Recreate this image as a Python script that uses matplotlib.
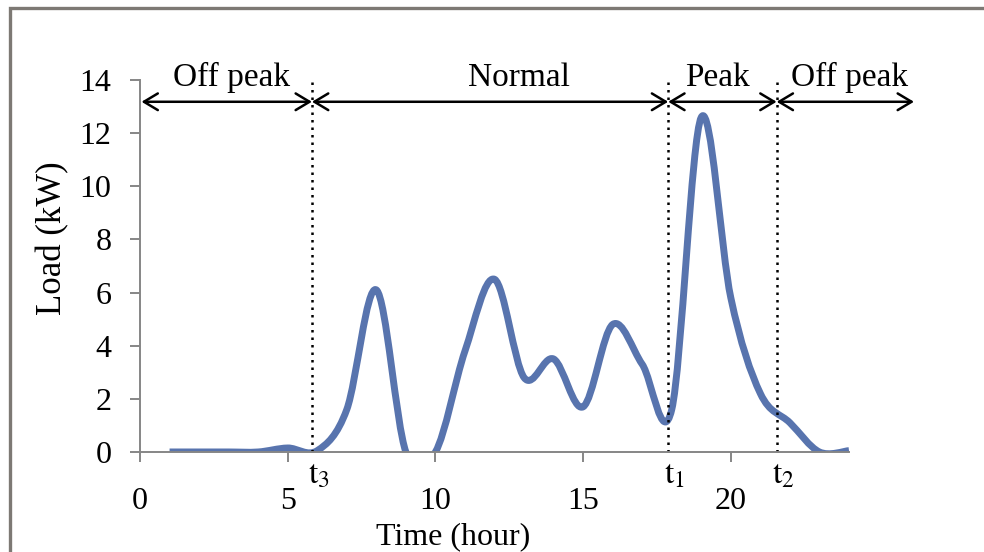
import matplotlib

matplotlib.use("Agg")

import matplotlib.pyplot as plt
import numpy as np
from matplotlib.patches import PathPatch, Rectangle
from matplotlib.path import Path


# hourly load readings (kW)
hours = np.arange(1, 25)
load = [0.0, 0.0, 0.0, 0.0, 0.15, 0.05, 1.6, 6.1, 0.0, 0.0, 3.8, 6.5,
        2.8, 3.5, 1.7, 4.8, 3.3, 1.6, 12.6, 5.8, 2.2, 1.1, 0.0, 0.05]

# tariff period boundaries (hour)
t3, t1, t2 = 5.82, 17.88, 21.55
boundary_times = [t3, t1, t2]
boundary_labels = [r"$\mathrm{t}_{3}$", r"$\mathrm{t}_{1}$", r"$\mathrm{t}_{2}$"]

# arrows spanning each period and their captions
period_edges = [0.05, t3, t1, t2, 26.2]
period_names = ["Off peak", "Normal", "Peak", "Off peak"]
period_label_x = [3.11, 12.83, 19.56, 24.03]

x_ticks = [0, 5, 10, 15, 20]
y_ticks = [0, 2, 4, 6, 8, 10, 12, 14]

plt.rcParams["font.family"] = ["Liberation Serif", "DejaVu Serif"]
plt.rcParams["mathtext.fontset"] = "stix"

LINE_COLOR = "#5874ae"
AXIS_COLOR = "#868686"


def smooth_path(x, y):
    """Excel-like smoothed line (Catmull-Rom as cubic Bezier segments)."""
    pts = np.column_stack([x, y]).astype(float)
    n = len(pts)
    verts = [pts[0]]
    codes = [Path.MOVETO]
    for i in range(n - 1):
        p0 = pts[max(i - 1, 0)]
        p1 = pts[i]
        p2 = pts[i + 1]
        p3 = pts[min(i + 2, n - 1)]
        c1 = p1 + (p2 - p0) / 6.0
        c2 = p2 - (p3 - p1) / 6.0
        verts.extend([c1, c2, p2])
        codes.extend([Path.CURVE4] * 3)
    return Path(verts, codes)


fig = plt.figure(figsize=(9.84, 5.52), dpi=100)
ax = fig.add_axes([0.1423, 0.1812, 0.7205, 0.6739])

ax.add_patch(PathPatch(smooth_path(hours, load), facecolor="none",
                       edgecolor=LINE_COLOR, lw=5.0, capstyle="butt",
                       joinstyle="round"))

ax.set_xlim(0, 24)
ax.set_ylim(0, 14)

for spine in ["top", "right"]:
    ax.spines[spine].set_visible(False)
for spine in ["left", "bottom"]:
    ax.spines[spine].set_color(AXIS_COLOR)
    ax.spines[spine].set_linewidth(1.4)

ax.set_xticks(x_ticks)
ax.set_yticks(y_ticks)
ax.tick_params(axis="both", direction="out", color=AXIS_COLOR, width=1.4,
               length=7.5, labelsize=23)
ax.tick_params(axis="x", pad=18)
ax.tick_params(axis="y", pad=13)

# dotted boundary lines with t labels under the axis
for t, lab in zip(boundary_times, boundary_labels):
    ax.plot([t, t], [0, 14], color="black", lw=1.8, linestyle=(0, (1.0, 2.0)),
            clip_on=False)
    ax.annotate(lab, xy=(t, 0), xycoords="data", xytext=(-3, -6),
                textcoords="offset points", ha="left", va="top", fontsize=24,
                annotation_clip=False)

# period arrows
arrow_y = 13.18
for left, right in zip(period_edges[:-1], period_edges[1:]):
    ax.annotate("", xy=(right, arrow_y), xytext=(left, arrow_y),
                annotation_clip=False,
                arrowprops=dict(arrowstyle="<->,head_length=0.5,head_width=0.3",
                                mutation_scale=20, color="black", lw=1.8,
                                shrinkA=0, shrinkB=0))

for name, xc in zip(period_names, period_label_x):
    ax.text(xc, 13.76, name, ha="center", va="baseline", fontsize=24,
            clip_on=False)

ax.set_xlabel("Time (hour)", fontsize=23)
ax.xaxis.set_label_coords(0.441, -0.247)
ax.xaxis.label.set_va("baseline")

ax.set_ylabel("Load (kW)", fontsize=25)
ax.yaxis.set_label_coords(-0.123, 0.575)
ax.yaxis.label.set_va("center")

# grey frame around the whole picture (cut at right and bottom)
fig.add_artist(Rectangle((0.0102, -0.2), 1.2, 1.186, transform=fig.transFigure,
                         fill=False, edgecolor="#7d7974", lw=2.4))

fig.savefig("out.png", dpi=100)
